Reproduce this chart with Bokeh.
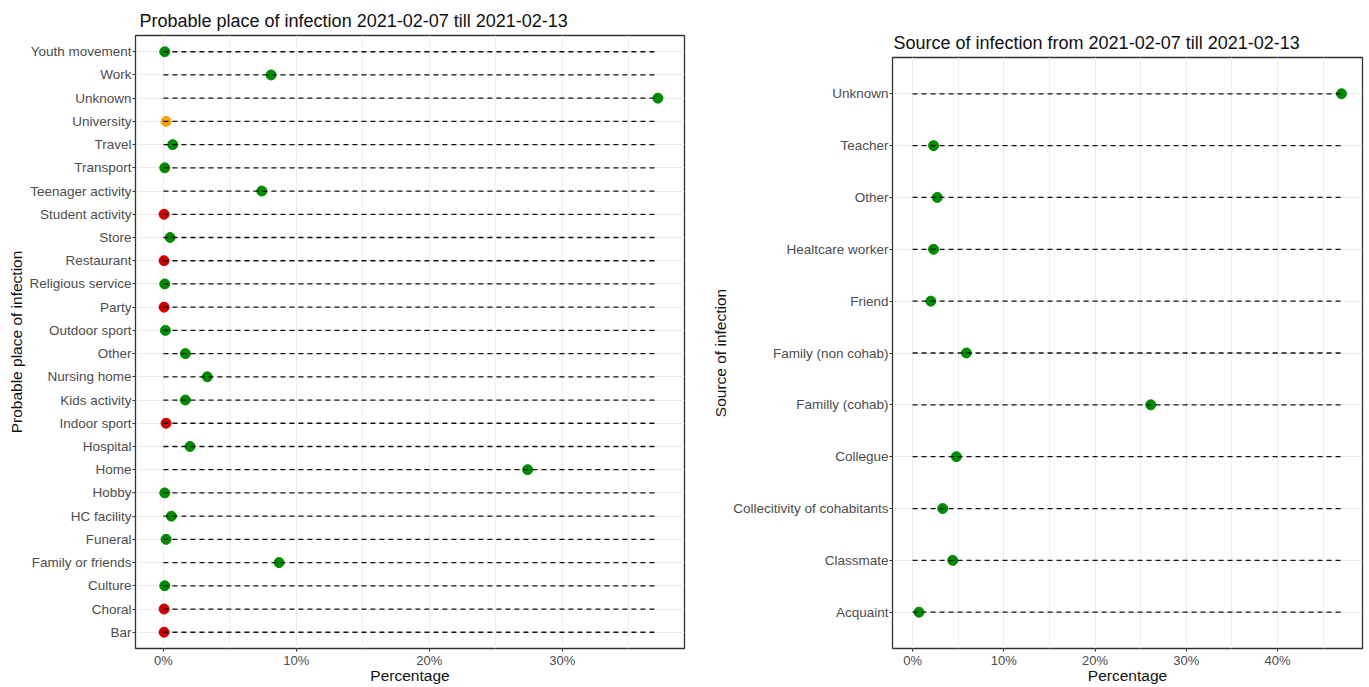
from bokeh.plotting import figure
from bokeh.layouts import row, column
from bokeh.models import FactorRange, Range1d, FixedTicker, PrintfTickFormatter, ColumnDataSource, Spacer
from bokeh.embed import file_html
from bokeh.resources import INLINE

# ---------------- data ----------------
left_title = "Probable place of infection 2021-02-07 till 2021-02-13"
left_places = ["Bar", "Choral", "Culture", "Family or friends", "Funeral", "HC facility",
               "Hobby", "Home", "Hospital", "Indoor sport", "Kids activity", "Nursing home",
               "Other", "Outdoor sport", "Party", "Religious service", "Restaurant", "Store",
               "Student activity", "Teenager activity", "Transport", "Travel", "University",
               "Unknown", "Work", "Youth movement"]
left_pct = [0.05, 0.05, 0.1, 8.7, 0.2, 0.6,
            0.1, 27.4, 2.0, 0.2, 1.65, 3.3,
            1.65, 0.15, 0.05, 0.1, 0.05, 0.5,
            0.05, 7.4, 0.1, 0.7, 0.2,
            37.2, 8.1, 0.1]
left_status = ["closed", "closed", "open", "open", "open", "open",
               "open", "open", "open", "closed", "open", "open",
               "open", "open", "closed", "open", "closed", "open",
               "closed", "open", "open", "open", "restricted",
               "open", "open", "open"]

right_title = "Source of infection from 2021-02-07 till 2021-02-13"
right_sources = ["Acquaint", "Classmate", "Collecitivity of cohabitants", "Collegue",
                 "Familly (cohab)", "Family (non cohab)", "Friend", "Healtcare worker",
                 "Other", "Teacher", "Unknown"]
right_pct = [0.7, 4.4, 3.3, 4.8, 26.1, 5.9, 2.0, 2.3, 2.7, 2.3, 47.0]

x_ticks_left = [0, 10, 20, 30]
x_minor_left = [5, 15, 25, 35]
x_ticks_right = [0, 10, 20, 30, 40]
x_minor_right = [5, 15, 25, 35, 45]

status_colors = {"open": "#008B00", "closed": "#CD0000", "restricted": "#F5A300"}

FONT = "Liberation Sans"
H = 686
TOP = 35
BOTTOM = 36
RIGHT_DROP = 22


def style(p, y_label, ticks, minor, title_offset):
    p.title.text_font = FONT
    p.title.text_font_size = "18px"
    p.title.text_font_style = "normal"
    p.title.text_color = "#111111"
    p.title.align = "left"
    p.title.offset = title_offset
    p.title.standoff = 9
    p.outline_line_color = "#333333"
    p.outline_line_width = 1.3
    p.xaxis.ticker = FixedTicker(ticks=ticks, minor_ticks=minor)
    p.xaxis.formatter = PrintfTickFormatter(format="%d%%")
    for ax in (p.xaxis[0], p.yaxis[0]):
        ax.axis_line_color = None
        ax.major_tick_line_color = "#333333"
        ax.major_tick_out = 3
        ax.major_tick_in = 0
        ax.minor_tick_line_color = None
        ax.major_label_text_font = FONT
        ax.major_label_text_color = "#4D4D4D"
        ax.major_label_standoff = 1
        ax.axis_label_text_font = FONT
        ax.axis_label_text_font_style = "normal"
        ax.axis_label_text_font_size = "15.5px"
        ax.axis_label_text_color = "#111111"
        ax.axis_label_standoff = 1
    p.xaxis.major_label_standoff = 0
    p.xaxis.axis_label_standoff = -4
    p.xaxis.major_label_text_font_size = "13px"
    p.yaxis.major_label_text_font_size = "13.5px"
    p.xaxis.axis_label = "Percentage"
    p.yaxis.axis_label = y_label
    p.xgrid.grid_line_color = "#EBEBEB"
    p.xgrid.minor_grid_line_color = "#F0F0F0"
    p.ygrid.grid_line_color = "#EBEBEB"
    p.background_fill_color = "white"
    p.border_fill_color = "white"


# ---------------- left chart ----------------
lmax = max(left_pct)
lsrc = ColumnDataSource(dict(
    cat=left_places, pct=left_pct,
    color=[status_colors[s] for s in left_status],
    x0=[0] * len(left_places), x1=[lmax] * len(left_places)))

p1 = figure(width=700, height=H, output_backend="svg", toolbar_location=None,
            title=left_title,
            y_range=FactorRange(factors=left_places, range_padding=0.2, range_padding_units="absolute"),
            x_range=Range1d(-2.1, 39.2),
            min_border_left=135, min_border_right=16, min_border_top=TOP, min_border_bottom=BOTTOM)
p1.scatter("pct", "cat", source=lsrc, size=10, fill_color="color", line_color="color")
p1.segment(x0="x0", y0="cat", x1="x1", y1="cat", source=lsrc,
           line_color="#111111", line_width=1.3, line_dash="5 4")
style(p1, "Probable place of infection", x_ticks_left, x_minor_left, 4)

# ---------------- right chart ----------------
rmax = max(right_pct)
rsrc = ColumnDataSource(dict(
    cat=right_sources, pct=right_pct,
    x0=[0] * len(right_sources), x1=[rmax] * len(right_sources)))

p2 = figure(width=666, height=H - RIGHT_DROP, output_backend="svg", toolbar_location=None,
            title=right_title,
            y_range=FactorRange(factors=right_sources, range_padding=0.2, range_padding_units="absolute"),
            x_range=Range1d(-2.2, 49.3),
            min_border_left=192, min_border_right=4, min_border_top=TOP, min_border_bottom=BOTTOM)
p2.scatter("pct", "cat", source=rsrc, size=10, fill_color="#008B00", line_color="#008B00")
p2.segment(x0="x0", y0="cat", x1="x1", y1="cat", source=rsrc,
           line_color="#111111", line_width=1.3, line_dash="5 4")
style(p2, "Source of infection", x_ticks_right, x_minor_right, 1)

layout = row(p1, column(Spacer(width=666, height=RIGHT_DROP), p2))
open("out.html", "w").write(file_html(layout, INLINE))
